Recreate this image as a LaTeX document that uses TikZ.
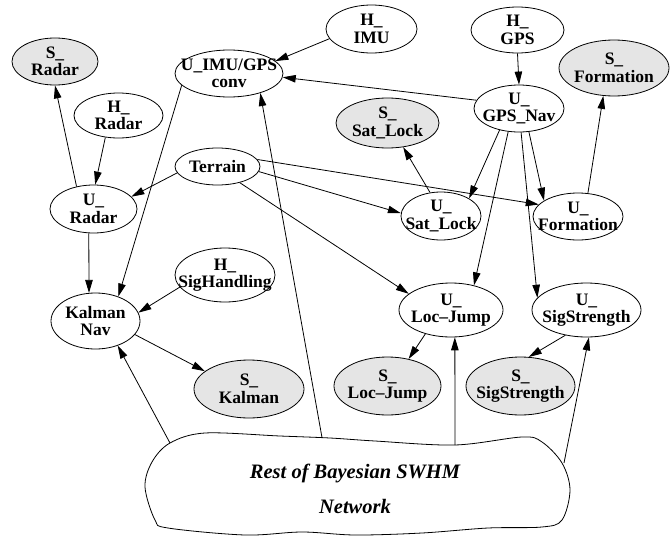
\documentclass[tikz,border=0pt]{standalone}
\usepackage{fontspec}
\setmainfont{Liberation Serif}
\usetikzlibrary{shapes.geometric, arrows.meta}
\definecolor{obsgray}{gray}{0.9}

\begin{document}
\begin{tikzpicture}[x=1pt, y=-1pt,
  bn/.style 2 args={ellipse, draw, line width=0.8pt, inner sep=0pt,
                    minimum width=#1pt, minimum height=#2pt},
  obs/.style={fill=obsgray},
  lbl/.style={font=\bfseries\fontsize{17.5}{17.5}\selectfont, align=center, inner sep=0pt},
  edge/.style={line width=0.8pt, -{Triangle[length=13pt,width=7.5pt]}},
]
\useasboundingbox (0,0) rectangle (672,538);

% ---- network nodes ----
\node[bn={86}{47}, obs, label={[lbl]center:{S\_\\Radar}}] (sradar) at (55,61.5) {};
\node[bn={89}{45}, label={[lbl]center:{H\_\\Radar}}] (hradar) at (118.5,115.5) {};
\node[bn={87}{48}, label={[lbl]center:{U\_\\Radar}}] (uradar) at (93.5,209) {};
\node[bn={108}{47}, label={[lbl]center:{U\_IMU/GPS\\conv}}] (uimu) at (229,73.5) {};
\node[bn={91}{48}, label={[lbl]center:{H\_\\IMU}}] (himu) at (371.5,29) {};
\node[bn={93}{46}, label={[lbl]center:{H\_\\GPS}}] (hgps) at (517.5,30) {};
\node[bn={110}{56}, obs, label={[lbl]center:{S\_\\Formation}}] (sform) at (614,68) {};
\node[bn={90}{47}, label={[lbl]center:{U\_\\GPS\_Nav}}] (ugps) at (519,108.5) {};
\node[bn={103}{50}, obs, label={[lbl]center:{S\_\\Sat\_Lock}}] (ssat) at (387.5,123) {};
\node[bn={80}{48}, label={[lbl]center:{U\_\\Sat\_Lock}}] (usat) at (441,216) {};
\node[bn={90}{47}, label={[lbl]center:{U\_\\Formation}}] (uform) at (578,216.5) {};
\node[bn={85}{37}, label={[lbl]center:{Terrain}}] (terrain) at (217.5,166.5) {};
\node[bn={100}{54}, label={[lbl]center:{H\_\\SigHandling}}] (hsig) at (225,275) {};
\node[bn={89}{56}, label={[lbl]center:{Kalman\\Nav}}] (kalman) at (95.5,321) {};
\node[bn={110}{58}, obs, label={[lbl]center:{S\_\\Kalman}}] (skalman) at (249,389) {};
\node[bn={104}{54}, label={[lbl]center:{U\_\\Loc–Jump}}] (uloc) at (451,310) {};
\node[bn={109}{54}, label={[lbl]center:{U\_\\SigStrength}}] (usig) at (586.5,310) {};
\node[bn={107}{58}, obs, label={[lbl]center:{S\_\\Loc–Jump}}] (sloc) at (387.5,386) {};
\node[bn={109}{58}, obs, label={[lbl]center:{S\_\\SigStrength}}] (ssig) at (520.5,386) {};

% ---- cloud standing for the rest of the network ----
\draw[line width=0.8pt] plot[smooth cycle, tension=0.55] coordinates {
  (170,443) (205,433) (280,436) (330,438) (375,441) (455,445) (522,437)
  (542,442) (562,463) (570,490) (562,520) (542,527) (488,528) (422,533)
  (355,535) (302,532) (245,535) (168,528) (155,520) (145,487) (152,462)};
\node[font=\bfseries\itshape\fontsize{20.5}{35}\selectfont, align=center]
  (cloud) at (355,489) {Rest of Bayesian SWHM\\Network};
\coordinate (cA) at (170,443);
\coordinate (cB) at (322,437.5);
\coordinate (cC) at (455,445);
\coordinate (cD) at (564,463);

% ---- connectors ----
\draw[edge] (uradar.127) -- (sradar.270);
\draw[edge] (hradar.239) -- (uradar.86);
\draw[edge] (terrain.189) -- (uradar.18);
\draw[edge] (uradar.259) -- (kalman.103);
\draw[edge] (uimu.194) -- (kalman.47);
\draw[edge] (himu.193) -- (uimu.15);
\draw[edge] (ugps.169) -- (uimu.356);
\draw[edge] (hgps.270) -- (ugps.90);
\draw[edge] (ugps.228) -- (usat.32);
\draw[edge] (ugps.293) -- (uform.155);
\draw[edge] (ugps.245) -- (uloc.47);
\draw[edge] (ugps.275) -- (usig.166);
\draw[edge] (usat.115) -- (ssat.303);
\draw[edge] (uform.67) -- (sform.249);
\draw[edge] (terrain.353) -- (usat.176);
\draw[edge] (terrain.10) -- (uform.163);
\draw[edge] (terrain.324) -- (uloc.159);
\draw[edge] (hsig.195) -- (kalman.11);
\draw[edge] (kalman.341) -- (skalman.158);
\draw[edge] (uloc.223) -- (sloc.52);
\draw[edge] (usig.230) -- (ssig.74);
\draw[edge] (cA) -- (kalman.312);
\draw[edge] (cB) -- (uimu.328);
\draw[edge] (cC) -- (uloc.278);
\draw[edge] (cD) -- (usig.275);
\end{tikzpicture}
\end{document}
